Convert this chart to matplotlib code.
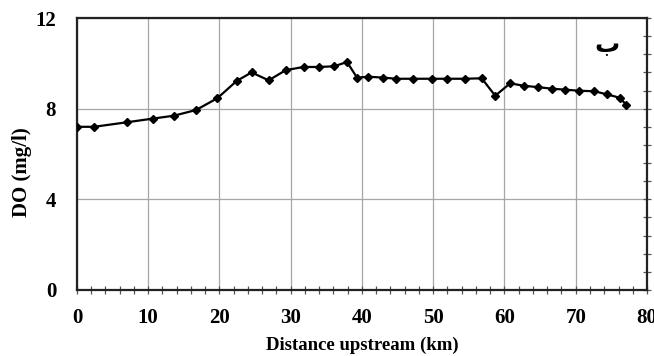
import matplotlib
matplotlib.use("Agg")
import matplotlib.pyplot as plt
from matplotlib.ticker import MultipleLocator

distance_km = [0.0, 2.4, 7.0, 10.6, 13.6, 16.7, 19.7, 22.4, 24.5, 26.9, 29.3, 31.8,
               34.0, 36.1, 37.9, 39.3, 40.9, 43.0, 44.8, 47.1, 49.8, 52.0, 54.4,
               56.8, 58.7, 60.8, 62.7, 64.7, 66.7, 68.5, 70.5, 72.6, 74.4, 76.2, 77.1]
do_mgl = [7.20, 7.20, 7.40, 7.56, 7.69, 7.94, 8.46, 9.22, 9.60, 9.25, 9.70, 9.84,
          9.84, 9.87, 10.06, 9.37, 9.41, 9.37, 9.32, 9.32, 9.32, 9.32, 9.32,
          9.34, 8.57, 9.12, 9.01, 8.95, 8.88, 8.84, 8.79, 8.77, 8.63, 8.48, 8.16]
x_ticks = [0, 10, 20, 30, 40, 50, 60, 70, 80]
y_ticks = [0, 4, 8, 12]
panel_label = "ب"

serif = ["Liberation Serif", "DejaVu Serif"]

fig = plt.figure(figsize=(6.54, 3.56), dpi=100)
ax = fig.add_axes([0.1177, 0.1854, 0.9893 - 0.1177, 0.9494 - 0.1854])

ax.plot(distance_km, do_mgl, color="black", lw=1.6, marker="D", ms=4.5,
        markerfacecolor="black", markeredgecolor="black", zorder=3)

ax.set_xlim(0, 80)
ax.set_ylim(0, 12)
ax.set_xticks(x_ticks)
ax.set_yticks(y_ticks)
ax.xaxis.set_minor_locator(MultipleLocator(2))
ax.yaxis.set_minor_locator(MultipleLocator(0.8))

ax.grid(True, which="major", color="#a6a6a6", lw=0.9, zorder=0)
ax.set_axisbelow(True)

for s in ax.spines.values():
    s.set_linewidth(1.6)
    s.set_color("#222222")

ax.tick_params(axis="x", which="both", direction="inout", bottom=True, top=False,
               length=6, width=0.9, color="#555555", pad=10)
ax.tick_params(axis="y", which="major", left=False, right=True, direction="inout",
               length=6, width=0.9, color="#555555", pad=12)
ax.tick_params(axis="y", which="minor", left=False, right=True, direction="inout",
               length=6, width=0.9, color="#555555")

for lab in ax.get_xticklabels() + ax.get_yticklabels():
    lab.set_fontfamily(serif)
    lab.set_fontweight("bold")
    lab.set_fontsize(15)

ax.set_xlabel("Distance upstream (km)", fontfamily=serif, fontweight="bold",
              fontsize=13.5, va="center")
ax.xaxis.set_label_coords(0.5, -0.202)
ax.set_ylabel("DO (mg/l)", fontfamily=serif, fontweight="bold", fontsize=15,
              va="center")
ax.yaxis.set_label_coords(-0.0965, 0.434)

ax.text(0.929, 0.90, panel_label, transform=ax.transAxes, fontsize=18,
        fontweight="bold", family=["DejaVu Sans"], ha="center", va="center")

fig.savefig("out.png", dpi=100)
